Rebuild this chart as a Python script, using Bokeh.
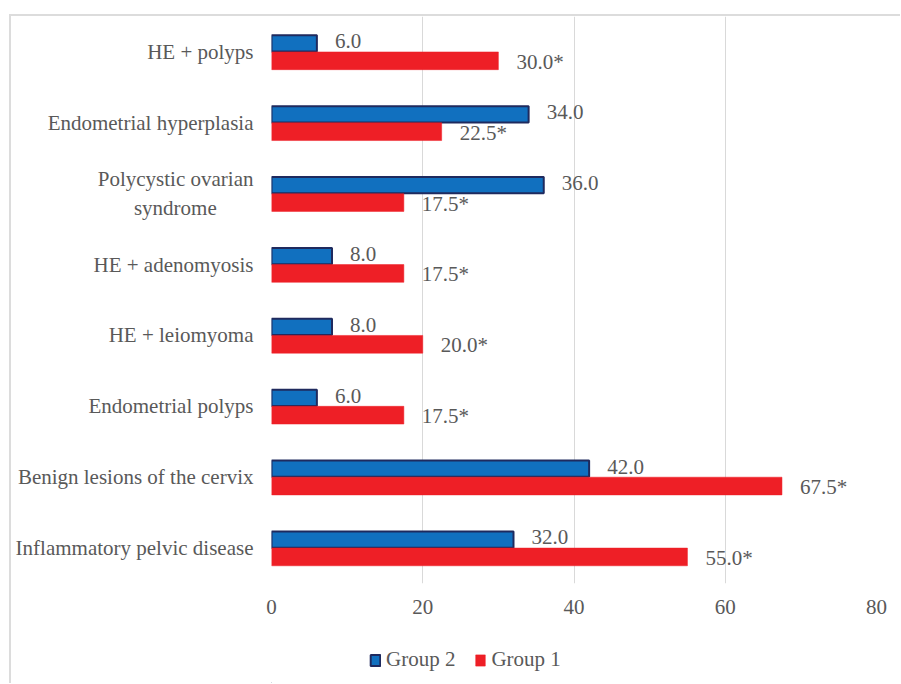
from bokeh.plotting import figure
from bokeh.layouts import column
from bokeh.models import (ColumnDataSource, FactorRange, Range1d, FixedTicker,
                          Legend, LegendItem)
from bokeh.transform import dodge
from bokeh.core.properties import value
from bokeh.embed import file_html
from bokeh.resources import INLINE

# Data (bottom -> top)
categories = ["Inflammatory pelvic disease", "Benign lesions of the cervix",
              "Endometrial polyps", "HE + leiomyoma", "HE + adenomyosis",
              "Polycystic ovarian\nsyndrome" + "\u00a0" * 7,
              "Endometrial hyperplasia", "HE + polyps"]
group2 = [32.0, 42.0, 6.0, 8.0, 8.0, 36.0, 34.0, 6.0]
group1 = [55.0, 67.5, 17.5, 20.0, 17.5, 17.5, 22.5, 30.0]
x_ticks = [0, 20, 40, 60, 80]
series_names = ["Group 2", "Group 1"]

FONT = "'Liberation Serif', 'Times New Roman', serif"
TXT = "#595959"
BLUE = "#1170BF"
NAVY = "#1F2A5E"
RED = "#EE1F26"

src = ColumnDataSource(dict(
    cat=categories, g2=group2, g1=group1,
    l2=["%.1f" % v for v in group2],
    l1=["%.1f*" % v for v in group1],
))

W = 889
p = figure(width=W, height=620, y_range=FactorRange(*categories),
           x_range=Range1d(0, 80), output_backend="svg", toolbar_location=None,
           min_border_left=260, min_border_right=24, min_border_top=0,
           min_border_bottom=53)
p.outline_line_color = None
p.background_fill_color = "white"
p.border_fill_color = "white"

p.hbar(y=dodge("cat", 0.12, range=p.y_range), right="g2", left=0, height=0.23,
       source=src, fill_color=BLUE, line_color=NAVY, line_width=2)
p.hbar(y=dodge("cat", -0.125, range=p.y_range), right="g1", left=0, height=0.25,
       source=src, fill_color=RED, line_color=RED, line_width=0.5)

p.text(x="g2", y=dodge("cat", 0.15, range=p.y_range), text="l2", source=src,
       x_offset=18, text_baseline="middle", text_align="left",
       text_font=value(FONT), text_font_size="21px", text_color=TXT)
p.text(x="g1", y=dodge("cat", -0.14, range=p.y_range), text="l1", source=src,
       x_offset=18, text_baseline="middle", text_align="left",
       text_font=value(FONT), text_font_size="21px", text_color=TXT)

# axes
for ax in (p.xaxis, p.yaxis):
    ax.axis_line_color = None
    ax.major_tick_line_color = None
    ax.minor_tick_line_color = None
    ax.major_tick_out = 0
    ax.major_tick_in = 0
    ax.minor_tick_out = 0
    ax.major_label_text_font = FONT
    ax.major_label_text_font_size = "21px"
    ax.major_label_text_color = TXT
p.xaxis.ticker = FixedTicker(ticks=x_ticks)
p.xaxis.major_label_standoff = 16
p.yaxis.major_label_standoff = 18

p.ygrid.grid_line_color = None
p.xgrid.grid_line_color = "#D9D9D9"
p.xgrid.grid_line_width = 1
p.xgrid.ticker = FixedTicker(ticks=x_ticks)

# legend strip below the chart (its frame is aligned with the chart's frame)
lf = figure(width=W, height=47, x_range=Range1d(0, 1), y_range=Range1d(0, 1),
            output_backend="svg", toolbar_location=None,
            x_axis_type=None, y_axis_type=None,
            min_border_left=0, min_border_right=0, min_border_top=0,
            min_border_bottom=0)
lf.outline_line_color = None
lf.grid.visible = False
lf.background_fill_color = "white"
lf.border_fill_color = "white"
# proxies placed far outside the ranges: only their legend swatches show
lr2 = lf.hbar(y=[-50], right=[-40], left=-50, height=0.5,
              fill_color=BLUE, line_color=NAVY, line_width=2)
lr1 = lf.hbar(y=[-50], right=[-40], left=-50, height=0.5,
              fill_color=RED, line_color=RED, line_width=0.5)
legend = Legend(items=[LegendItem(label=series_names[0], renderers=[lr2]),
                       LegendItem(label=series_names[1], renderers=[lr1])],
                orientation="horizontal", location=(98, 11),
                glyph_width=12, glyph_height=14, label_standoff=5, spacing=19,
                padding=0, margin=0, border_line_color=None,
                background_fill_alpha=0,
                label_text_font=FONT, label_text_font_size="21px",
                label_text_color=TXT)
lf.add_layout(legend, "center")

layout = column(p, lf, spacing=0)
layout.styles = {"margin-left": "9px", "margin-top": "14px",
                 "border-left": "2px solid #DCDCDC", "border-top": "2px solid #DCDCDC"}

open("out.html", "w").write(file_html(layout, INLINE))
